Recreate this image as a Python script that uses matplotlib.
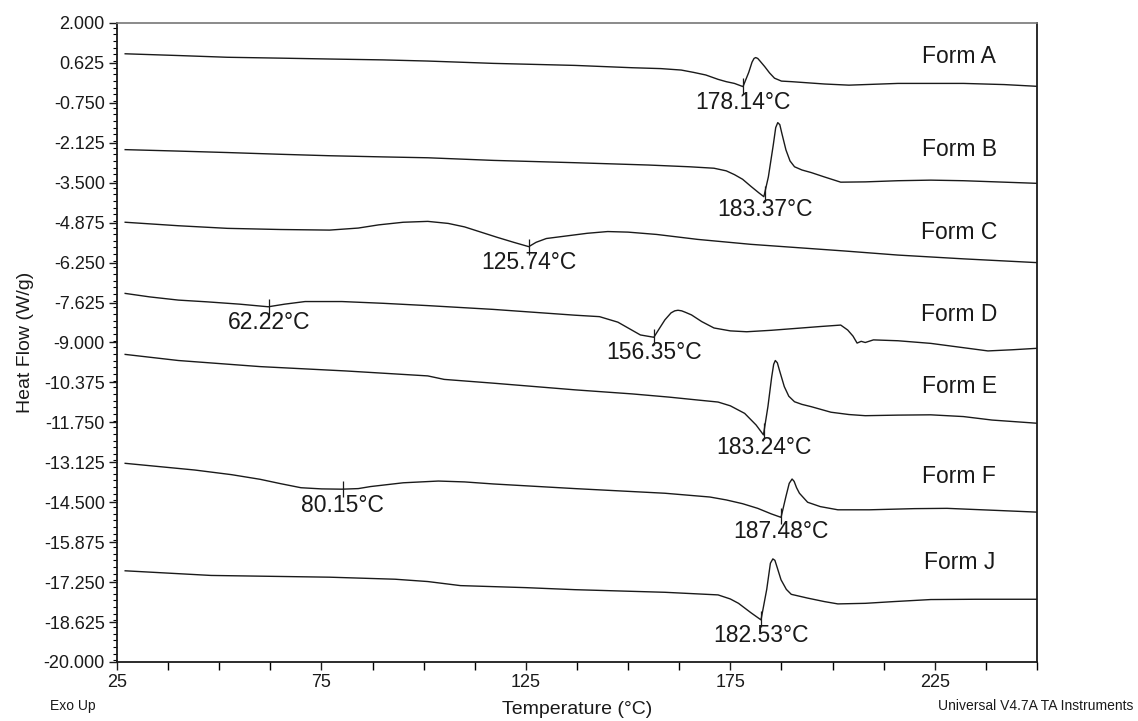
import numpy as np
import matplotlib
matplotlib.use("Agg")
import matplotlib.pyplot as plt
from matplotlib.ticker import MultipleLocator, FixedLocator, FormatStrFormatter

plt.rcParams['font.family'] = ['Liberation Sans', 'DejaVu Sans']

# DSC curves: temperature (deg C) and heat flow (W/g)
form_a_t = [27, 40, 52, 65, 77, 90, 101, 117, 137, 151, 158, 163, 166, 169, 172, 174, 176, 178.1,
            179.5, 180.3, 180.8, 181.2, 181.7, 182.2, 183.4, 184.6, 185.8, 187.5, 190, 198, 204, 210, 216, 232, 242, 250]
form_a_hf = [0.94, 0.88, 0.82, 0.79, 0.76, 0.73, 0.69, 0.61, 0.54, 0.46, 0.43, 0.38, 0.30, 0.21, 0.06, -0.02, -0.08, -0.19,
             0.30, 0.65, 0.78, 0.81, 0.78, 0.70, 0.50, 0.28, 0.10, 0.0, -0.02, -0.10, -0.14, -0.11, -0.08, -0.08, -0.12, -0.18]

form_b_t = [27, 40, 52, 65, 77, 90, 101, 117, 137, 155, 165, 171, 174, 176, 178, 180, 182, 183.2,
            184.3, 185.5, 186.1, 186.6, 187.1, 187.6, 188.6, 189.6, 190.7, 192.5, 194.8, 198, 202, 208, 216, 224, 232, 240, 250]
form_b_hf = [-2.36, -2.41, -2.46, -2.52, -2.57, -2.61, -2.64, -2.73, -2.81, -2.89, -2.95, -3.00, -3.09, -3.22, -3.38, -3.62, -3.85, -3.98,
             -3.30, -2.20, -1.60, -1.43, -1.50, -1.80, -2.37, -2.75, -2.95, -3.06, -3.15, -3.30, -3.48, -3.47, -3.43, -3.41, -3.43, -3.47, -3.52]

form_c_t = [27, 40, 52, 65, 77, 84, 89, 95, 101, 106, 110, 114, 118, 122, 125.7, 127.5, 130, 135, 140, 145,
            150, 157, 167, 180, 190, 203, 216, 232, 250]
form_c_hf = [-4.86, -4.98, -5.07, -5.11, -5.13, -5.06, -4.95, -4.86, -4.83, -4.90, -5.02, -5.20, -5.38, -5.55, -5.70, -5.55, -5.42, -5.33, -5.24, -5.18,
             -5.20, -5.28, -5.45, -5.62, -5.72, -5.85, -5.99, -6.12, -6.25]

form_d_t = [27, 33, 40, 47, 55, 62.0, 66, 71, 80, 90, 101, 117, 128, 137, 143, 147.5, 150, 153, 156.3,
            157.5, 159, 160.5, 161.4, 162.2, 163.1, 164, 165.5, 168, 171, 175, 179, 185, 191.5, 197, 202, 203.7, 205, 206,
            207, 208, 210, 216, 224, 231, 238, 244, 250]
form_d_hf = [-7.31, -7.43, -7.54, -7.60, -7.68, -7.77, -7.68, -7.59, -7.59, -7.65, -7.73, -7.86, -7.97, -8.06, -8.11, -8.30, -8.50, -8.74, -8.82,
             -8.55, -8.22, -7.98, -7.91, -7.89, -7.91, -7.96, -8.05, -8.28, -8.50, -8.60, -8.63, -8.58, -8.51, -8.45, -8.40, -8.57, -8.78, -9.02,
             -8.96, -9.00, -8.91, -8.94, -9.03, -9.16, -9.29, -9.25, -9.20]

form_e_t = [27, 40, 60, 81, 101, 105, 117, 137, 151, 160, 167, 172, 175, 178.5, 181.3, 183.1,
            184.2, 185.1, 185.6, 186.0, 186.5, 187.0, 188.2, 189.3, 190.7, 192.5, 194.8, 199.6, 204, 208, 216, 224, 232, 239, 250]
form_e_hf = [-9.41, -9.62, -9.83, -9.98, -10.15, -10.27, -10.40, -10.63, -10.77, -10.88, -10.98, -11.05, -11.18, -11.44, -11.84, -12.18,
             -11.20, -10.20, -9.75, -9.62, -9.70, -9.95, -10.52, -10.85, -11.04, -11.13, -11.21, -11.40, -11.48, -11.52, -11.50, -11.49, -11.55, -11.67, -11.78]

form_f_t = [27, 44, 53, 60, 65, 70, 75, 80, 84, 87, 95, 103.6, 110, 117, 137, 159, 170, 174, 178, 181.7, 185, 187.4,
            188.6, 189.4, 190.1, 190.6, 191.2, 191.9, 193.9, 197, 201.3, 209, 220, 228, 240, 250]
form_f_hf = [-13.16, -13.39, -13.55, -13.71, -13.86, -14.00, -14.04, -14.05, -14.03, -13.96, -13.83, -13.77, -13.80, -13.87, -14.03, -14.19, -14.32, -14.42, -14.55, -14.71, -14.90, -15.02,
             -14.30, -13.85, -13.70, -13.78, -14.00, -14.19, -14.50, -14.65, -14.76, -14.76, -14.72, -14.71, -14.78, -14.84]

form_j_t = [27, 48, 77, 93, 101, 105, 109, 125, 137, 159, 172, 175, 177, 180, 182.5,
            183.9, 184.8, 185.4, 185.9, 186.4, 187.4, 188.7, 189.9, 193.9, 198, 201.3, 208, 215, 224, 235, 250]
form_j_hf = [-16.86, -17.02, -17.08, -17.15, -17.23, -17.30, -17.37, -17.44, -17.51, -17.60, -17.69, -17.83, -17.98, -18.30, -18.55,
             -17.50, -16.60, -16.45, -16.50, -16.72, -17.17, -17.50, -17.67, -17.80, -17.92, -18.00, -17.98, -17.92, -17.85, -17.84, -17.84]

form_names = ["Form A", "Form B", "Form C", "Form D", "Form E", "Form F", "Form J"]
curves = [(form_a_t, form_a_hf), (form_b_t, form_b_hf), (form_c_t, form_c_hf), (form_d_t, form_d_hf),
          (form_e_t, form_e_hf), (form_f_t, form_f_hf), (form_j_t, form_j_hf)]
# labelled peak temperatures for each curve
peaks = [[178.14], [183.37], [125.74], [62.22, 156.35], [183.24], [80.15, 187.48], [182.53]]
# where the "Form X" text sits (heat flow)
name_y = [0.86, -2.37, -5.23, -8.02, -10.53, -13.63, -16.56]

ink = "#1a1a1a"

fig = plt.figure(figsize=(11.38, 7.21), dpi=100)
ax = fig.add_axes([117 / 1138, 1 - 662 / 721, 920 / 1138, 639 / 721])

for (t, hf), name, pk, ny in zip(curves, form_names, peaks, name_y):
    ax.plot(t, hf, color=ink, lw=1.0)
    for p in pk:
        yp = np.interp(p, t, hf)
        ax.plot([p], [yp], marker='|', ms=12, mew=0.9, color=ink)
        ax.annotate(f"{p:.2f}°C", (p, yp), xytext=(0, -16), textcoords='offset pixels',
                    ha='center', va='center', fontsize=16.5, color=ink)
    ax.text(231, ny, name, ha='center', va='center', fontsize=16.5, color=ink)

ax.set_xlim(25, 250)
ax.set_ylim(-20, 2)
ax.xaxis.set_major_locator(FixedLocator([25, 75, 125, 175, 225]))
ax.xaxis.set_minor_locator(MultipleLocator(12.5))
yt = 2 - 1.375 * np.arange(17)
ax.yaxis.set_major_locator(FixedLocator(yt))
ax.yaxis.set_minor_locator(MultipleLocator(1.375 / 6))
ax.yaxis.set_major_formatter(FormatStrFormatter('%.3f'))

ax.tick_params(axis='both', which='major', direction='out', labelsize=13, width=1.0, color=ink, labelcolor=ink)
ax.tick_params(axis='x', which='both', length=5.5, width=1.0, pad=3)
ax.tick_params(axis='y', which='major', length=5.8, pad=3)
ax.tick_params(axis='y', which='minor', length=3, width=0.8, direction='out')

for s in ['left', 'bottom', 'right']:
    ax.spines[s].set_color(ink)
    ax.spines[s].set_linewidth(1.3)
ax.spines['top'].set_color('#777777')
ax.spines['top'].set_linewidth(1.2)

fig.text(25 / 1138, 1 - 342 / 721, "Heat Flow (W/g)", rotation=90, ha='center', va='center', fontsize=14, color=ink)
fig.text(577 / 1138, 1 - 709 / 721, "Temperature (°C)", ha='center', va='center', fontsize=14, color=ink)
fig.text(50 / 1138, 1 - 706 / 721, "Exo Up", ha='left', va='center', fontsize=10, color=ink)
fig.text(1133 / 1138, 1 - 706 / 721, "Universal V4.7A TA Instruments", ha='right', va='center', fontsize=10, color=ink)

fig.savefig("out.png", dpi=100)
